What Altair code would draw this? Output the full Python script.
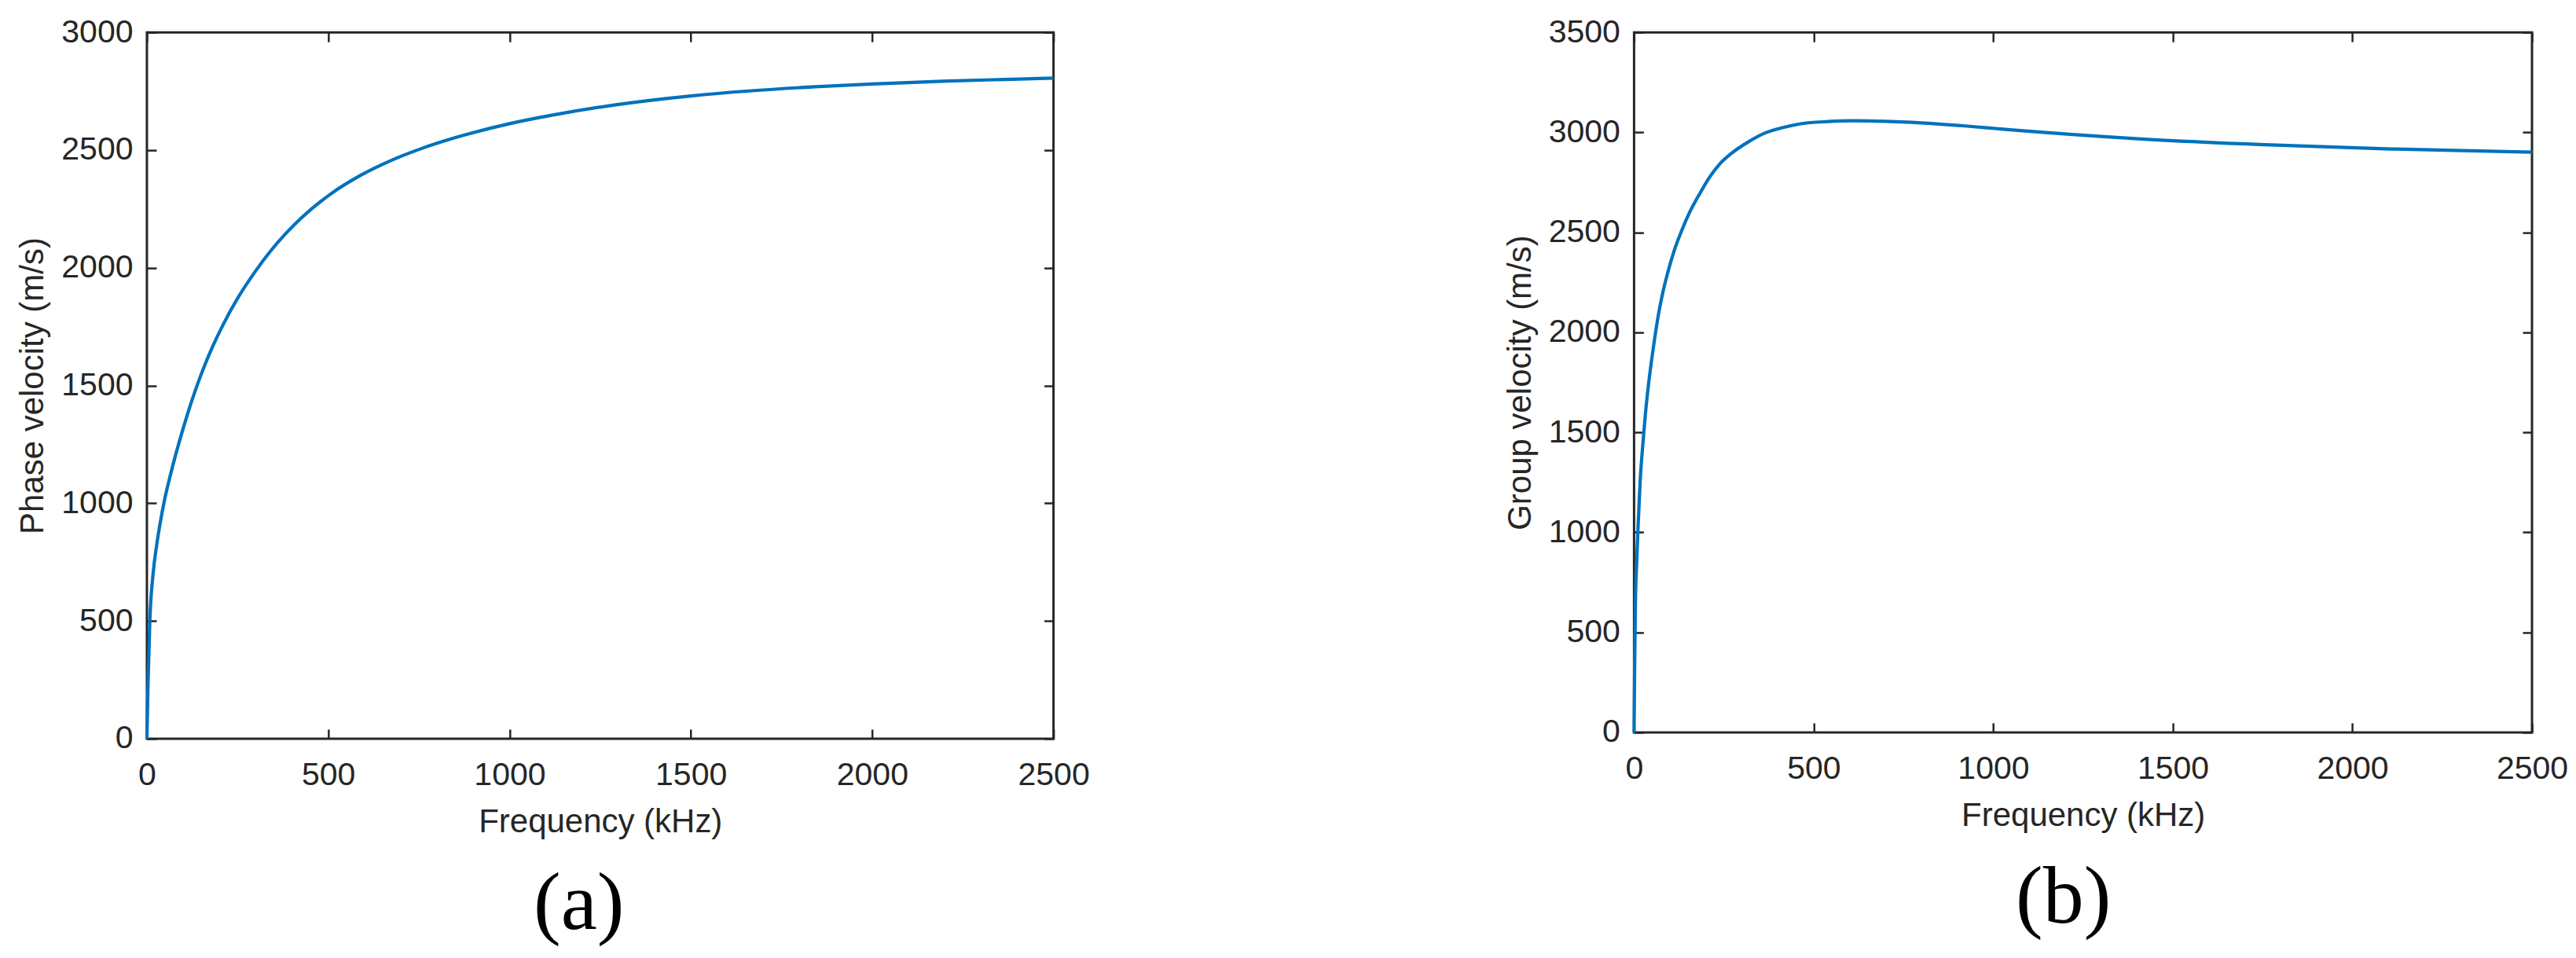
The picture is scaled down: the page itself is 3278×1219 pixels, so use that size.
import altair as alt
import pandas as pd

# ---- data ----
phase_freq = [0, 3, 8, 17, 27, 37, 49, 64, 80, 100, 124, 153, 182, 211, 250, 300, 343,
              426, 509, 592, 675, 758, 840, 900, 1000, 1113, 1296, 1500, 1660, 1843,
              2000, 2208, 2500]
phase_vel = [0, 228, 498, 699, 823, 920, 1017, 1115, 1210, 1318, 1436, 1561, 1668, 1761,
             1870, 1987, 2075, 2212, 2316, 2395, 2457, 2507, 2548, 2574, 2612, 2647,
             2693, 2730, 2751, 2769, 2781, 2793, 2806]

group_freq = [0, 1.5, 3.7, 7.3, 11.7, 16.8, 24, 31.5, 39, 48, 57, 68, 79, 94, 112, 134,
              156, 185, 210, 240, 269, 317, 365, 410, 464, 540, 610, 700, 757, 921, 1054,
              1404, 1756, 2108, 2500]
group_vel = [0, 300, 640, 850, 1050, 1250, 1430, 1590, 1720, 1850, 1965, 2090, 2190, 2300,
             2410, 2515, 2605, 2700, 2775, 2845, 2892, 2951, 2997, 3022, 3043, 3054, 3058,
             3055, 3051, 3032, 3012, 2968, 2938, 2917, 2901]

x_ticks = [0, 500, 1000, 1500, 2000, 2500]
phase_ticks = [0, 500, 1000, 1500, 2000, 2500, 3000]
group_ticks = [0, 500, 1000, 1500, 2000, 2500, 3000, 3500]

FONT = "Liberation Sans"
AX = "#262626"
LINE = "#0072BD"


def panel(freq, vel, ytitle, ymax, yticks, w, h, label, dx):
    df = pd.DataFrame({"f": freq, "v": vel})
    xs = alt.Scale(domain=[0, 2500], nice=False, zero=False)
    ys = alt.Scale(domain=[0, ymax], nice=False)
    base = alt.Chart(df)
    main = base.mark_line(color=LINE, strokeWidth=4.2, interpolate="monotone").encode(
        x=alt.X("f:Q", scale=xs, axis=alt.Axis(
            orient="bottom", title="Frequency (kHz)", values=x_ticks, format="d",
            ticks=False, tickSize=0, domain=False, grid=False, labelFlush=False,
            labelOverlap=False,
            labelPadding=27, titlePadding=19, labelFontSize=41, titleFontSize=42,
            labelColor=AX, titleColor=AX, labelFont=FONT, titleFont=FONT,
            titleFontWeight="normal")),
        y=alt.Y("v:Q", scale=ys, axis=alt.Axis(
            orient="left", title=ytitle, values=yticks, format="d",
            ticks=False, tickSize=0, domain=False, grid=False, labelFlush=False,
            labelOverlap=False,
            labelPadding=18, titlePadding=14, labelFontSize=41, titleFontSize=42,
            labelColor=AX, titleColor=AX, labelFont=FONT, titleFont=FONT,
            titleFontWeight="normal")),
    )

    def tick_layer(xo, yo):
        return base.mark_line(opacity=0).encode(
            x=alt.X("f:Q", scale=xs, axis=alt.Axis(
                orient=xo, values=x_ticks, labels=False, title="", domain=False,
                grid=False, ticks=True, tickSize=12, tickWidth=2.5, tickColor=AX,
                offset=-12)),
            y=alt.Y("v:Q", scale=ys, axis=alt.Axis(
                orient=yo, values=yticks, labels=False, title="", domain=False,
                grid=False, ticks=True, tickSize=12, tickWidth=2.5, tickColor=AX,
                offset=-12)),
        )

    return alt.layer(main, tick_layer("bottom", "left"), tick_layer("top", "right")).resolve_axis(
        x="independent", y="independent"
    ).properties(
        width=w, height=h,
        title=alt.TitleParams(label, orient="bottom", anchor="middle", frame="group",
                              font="Liberation Serif", fontSize=104, fontWeight="normal",
                              color="black", offset=33, dx=dx),
    )


left = panel(phase_freq, phase_vel, "Phase velocity (m/s)", 3000, phase_ticks, 1154, 899, "(a)", -27)
right = panel(group_freq, group_vel, "Group velocity (m/s)", 3500, group_ticks, 1143, 891, "(b)", -25)

chart = alt.hconcat(left, right, spacing=523).properties(
    padding={"left": 11, "top": 10, "right": 0, "bottom": 0}
).configure_view(stroke=AX, strokeWidth=3)

chart.save("out.html", embed_options={"renderer": "svg", "actions": False})
